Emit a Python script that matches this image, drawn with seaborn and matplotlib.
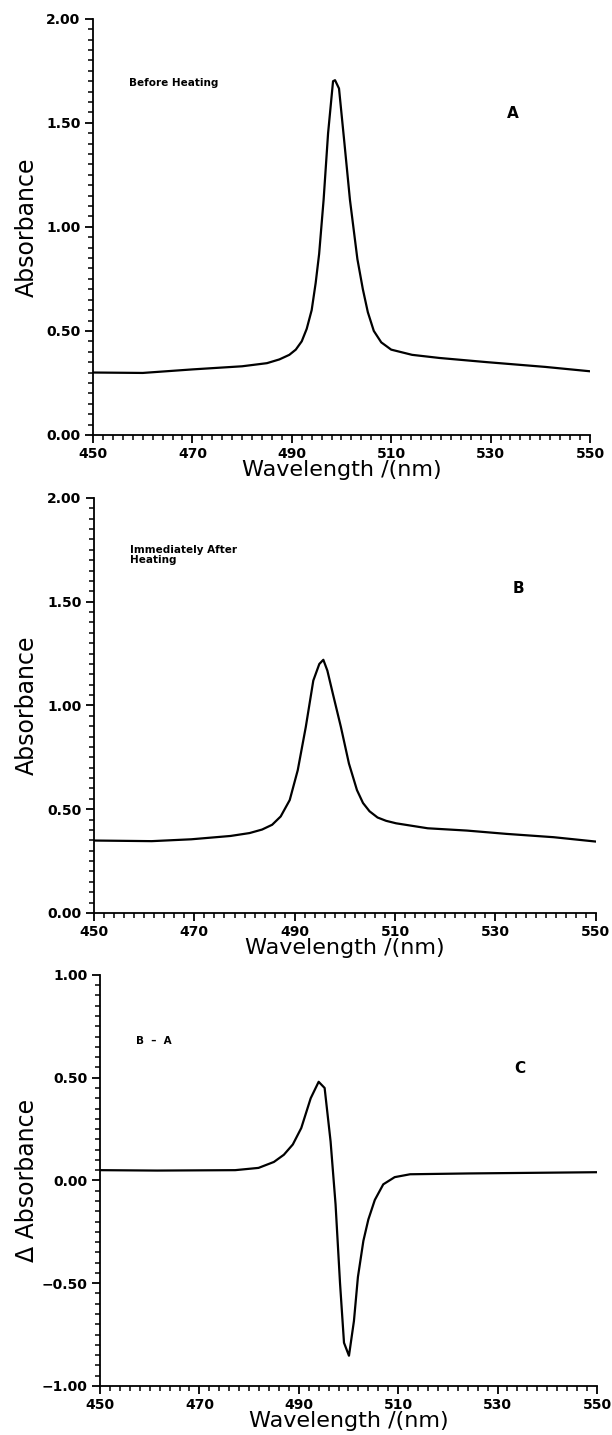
import numpy as np
import pandas as pd
import matplotlib
matplotlib.use("Agg")
import matplotlib.pyplot as plt
from matplotlib.ticker import MultipleLocator, FuncFormatter
import seaborn as sns

# Spectrum before heating (A)
wl_a = [450, 460, 470, 480, 485, 487.5, 489.5, 490.8, 492.0, 493.0, 494.0, 494.8,
        495.5, 496.4, 497.3, 498.3, 498.7, 499.5, 500.6, 501.7, 503.2, 504.3,
        505.3, 506.5, 508.0, 510.0, 514.2, 519.7, 529.2, 541, 550]
abs_a = [0.300, 0.298, 0.315, 0.330, 0.345, 0.363, 0.385, 0.410, 0.450, 0.510,
         0.600, 0.730, 0.870, 1.130, 1.450, 1.700, 1.705, 1.665, 1.400, 1.130,
         0.845, 0.700, 0.590, 0.500, 0.445, 0.410, 0.385, 0.370, 0.350, 0.327,
         0.306]

# Spectrum immediately after heating (B)
wl_b = [450, 461.5, 469.4, 477.2, 481.0, 483.5, 485.5, 487.2, 489, 490.6, 492.2,
        493.7, 494.9, 495.7, 496.5, 497.6, 499.2, 500.8, 502.4, 503.6, 504.9,
        506.5, 508.2, 510.2, 516.5, 524.3, 532.2, 541.6, 550]
abs_b = [0.349, 0.346, 0.355, 0.371, 0.385, 0.402, 0.425, 0.465, 0.544, 0.688,
         0.896, 1.120, 1.200, 1.220, 1.168, 1.056, 0.896, 0.720, 0.592, 0.530,
         0.490, 0.460, 0.444, 0.432, 0.408, 0.397, 0.381, 0.365, 0.344]

# Difference spectrum (B - A)
wl_c = [450, 461.5, 477.2, 481.9, 485, 487.0, 488.8, 490.5, 492.4, 494.0, 495.2,
        496.4, 497.4, 498.3, 499.1, 500.1, 501.1, 501.9, 503.0, 504.0, 505.3,
        507.0, 509.3, 512.4, 524.2, 550]
abs_c = [0.050, 0.048, 0.050, 0.061, 0.090, 0.125, 0.175, 0.255, 0.400, 0.480,
         0.450, 0.190, -0.116, -0.500, -0.790, -0.853, -0.684, -0.470, -0.294,
         -0.190, -0.095, -0.019, 0.016, 0.030, 0.034, 0.040]

x_ticks = [450, 470, 490, 510, 530, 550]

sns.set_style("ticks")
plt.rcParams["font.family"] = ["DejaVu Sans"]
for key in ("text.color", "axes.labelcolor", "xtick.color", "ytick.color",
            "axes.edgecolor"):
    plt.rcParams[key] = "black"


def fmt_two(v, _pos):
    return f"{v:.2f}".replace("-", "\u2212")


fig = plt.figure(figsize=(6.12, 14.35), dpi=100)

panels = [
    dict(rect=[0.152, 0.6969, 0.812, 0.2900], x=wl_a, y=abs_a, ylim=(0, 2.0),
         ylabel="Absorbance", ylab_x=-0.109,
         note="Before Heating", note_y=1.69, tag="A", tag_y=1.545),
    dict(rect=[0.1536, 0.3638, 0.820, 0.2892], x=wl_b, y=abs_b, ylim=(0, 2.0),
         ylabel="Absorbance", ylab_x=-0.110,
         note="Immediately After\nHeating", note_y=1.725, tag="B", tag_y=1.565),
    dict(rect=[0.1634, 0.0342, 0.812, 0.2864], x=wl_c, y=abs_c, ylim=(-1.0, 1.0),
         ylabel="\u0394 Absorbance", ylab_x=-0.123,
         note="B  \u2013  A", note_y=0.68, tag="C", tag_y=0.547),
]

for p in panels:
    ax = fig.add_axes(p["rect"])
    df = pd.DataFrame({"wl": p["x"], "a": p["y"]})
    sns.lineplot(data=df, x="wl", y="a", ax=ax, color="black", linewidth=1.6, sort=False)
    ax.set_xlim(450, 550)
    ax.set_ylim(*p["ylim"])
    ax.set_xticks(x_ticks)
    ax.xaxis.set_minor_locator(MultipleLocator(2))
    ax.yaxis.set_major_locator(MultipleLocator(0.5))
    ax.yaxis.set_minor_locator(MultipleLocator(0.05))
    ax.yaxis.set_major_formatter(FuncFormatter(fmt_two))
    sns.despine(ax=ax)
    for s in ("left", "bottom"):
        ax.spines[s].set_linewidth(1.3)
        ax.spines[s].set_color("black")
    ax.tick_params(which="major", length=6, width=1.3, color="black",
                   labelsize=10, pad=3, labelcolor="black")
    ax.tick_params(which="minor", length=3.5, width=1.1, color="black")
    for lab in ax.get_xticklabels() + ax.get_yticklabels():
        lab.set_fontweight("bold")
    ax.set_xlabel("Wavelength /(nm)", fontsize=16, labelpad=-1, color="black")
    ax.set_ylabel(p["ylabel"], fontsize=17, color="black")
    ax.yaxis.set_label_coords(p["ylab_x"], 0.5)
    ax.text(457.2, p["note_y"], p["note"], fontsize=7.5, fontweight="bold",
            ha="left", va="center", linespacing=0.95, color="black")
    ax.text(534.5, p["tag_y"], p["tag"], fontsize=11, fontweight="bold",
            ha="center", va="center", color="black")
    ax.set_facecolor("white")

fig.savefig("out.png", dpi=100, facecolor="white")
